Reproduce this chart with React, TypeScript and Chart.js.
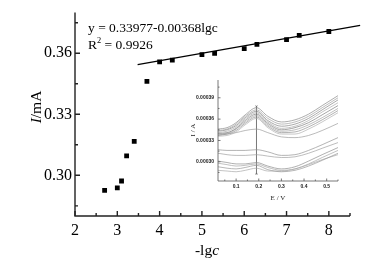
import React, { useEffect, useRef } from "react";
import { Chart, registerables } from "chart.js";

Chart.register(...registerables);

const SERIF = "'Liberation Serif', 'Times New Roman', serif";
const SANS = "'Liberation Sans', Arial, sans-serif";
Chart.defaults.font.family = SERIF;

// ---- main chart data ----
const lgC = [2.7, 3.0, 3.1, 3.22, 3.4, 3.7, 4.0, 4.3, 5.0, 5.3, 6.0, 6.3, 7.0, 7.3, 8.0];
const currentMA = [0.2926, 0.2938, 0.2972, 0.3096, 0.3167, 0.3462, 0.3558, 0.3566, 0.3593, 0.36, 0.3623, 0.3644, 0.3667, 0.3688, 0.3707];
const fitLgC = [3.48, 8.74];
const fitMA = [0.3544, 0.3737];
const xTickValues = [2, 3, 4, 5, 6, 7, 8];
const xMinorValues = [2.5, 3.5, 4.5, 5.5, 6.5, 7.5, 8.5];
const yTickValues = [0.3, 0.33, 0.36];
const yMinorValues = [0.285, 0.315, 0.345, 0.375];
const equationText = "y = 0.33977-0.00368lgc";
const r2Text = "0.9926";

// ---- inset data ----
const insetE = [0.02, 0.06, 0.1, 0.14, 0.19, 0.24, 0.3, 0.36, 0.42, 0.48, 0.55];
const scan1 = [3.46e-4, 3.48e-4, 3.55e-4, 3.66e-4, 3.76e-4, 3.64e-4, 3.56e-4, 3.59e-4, 3.67e-4, 3.79e-4, 3.93e-4];
const scan2 = [3.44e-4, 3.46e-4, 3.53e-4, 3.64e-4, 3.73e-4, 3.61e-4, 3.53e-4, 3.56e-4, 3.64e-4, 3.76e-4, 3.9e-4];
const scan3 = [3.43e-4, 3.45e-4, 3.51e-4, 3.62e-4, 3.71e-4, 3.58e-4, 3.5e-4, 3.53e-4, 3.61e-4, 3.73e-4, 3.87e-4];
const scan4 = [3.41e-4, 3.43e-4, 3.49e-4, 3.6e-4, 3.69e-4, 3.56e-4, 3.47e-4, 3.5e-4, 3.58e-4, 3.7e-4, 3.83e-4];
const scan5 = [3.4e-4, 3.41e-4, 3.47e-4, 3.58e-4, 3.67e-4, 3.54e-4, 3.45e-4, 3.48e-4, 3.55e-4, 3.66e-4, 3.79e-4];
const scan6 = [3.39e-4, 3.4e-4, 3.46e-4, 3.56e-4, 3.65e-4, 3.52e-4, 3.43e-4, 3.45e-4, 3.52e-4, 3.62e-4, 3.75e-4];
const scan7 = [3.37e-4, 3.39e-4, 3.44e-4, 3.54e-4, 3.63e-4, 3.5e-4, 3.41e-4, 3.42e-4, 3.49e-4, 3.59e-4, 3.72e-4];
const scan8 = [3.36e-4, 3.37e-4, 3.42e-4, 3.52e-4, 3.61e-4, 3.48e-4, 3.39e-4, 3.39e-4, 3.46e-4, 3.56e-4, 3.69e-4];
const scan9 = [3.38e-4, 3.39e-4, 3.41e-4, 3.44e-4, 3.46e-4, 3.41e-4, 3.35e-4, 3.34e-4, 3.37e-4, 3.44e-4, 3.54e-4];
const scan10 = [3.17e-4, 3.16e-4, 3.16e-4, 3.16e-4, 3.17e-4, 3.14e-4, 3.09e-4, 3.1e-4, 3.16e-4, 3.24e-4, 3.34e-4];
const scan11 = [3.12e-4, 3.1e-4, 3.09e-4, 3.09e-4, 3.1e-4, 3.08e-4, 3.06e-4, 3.07e-4, 3.12e-4, 3.19e-4, 3.27e-4];
const scan12 = [3.01e-4, 2.99e-4, 2.97e-4, 2.97e-4, 2.99e-4, 2.94e-4, 2.9e-4, 2.93e-4, 3.01e-4, 3.1e-4, 3.2e-4];
const scan13 = [2.98e-4, 2.96e-4, 2.94e-4, 2.95e-4, 2.97e-4, 2.92e-4, 2.88e-4, 2.9e-4, 2.97e-4, 3.06e-4, 3.16e-4];
const scan14 = [2.93e-4, 2.91e-4, 2.9e-4, 2.92e-4, 2.95e-4, 2.89e-4, 2.86e-4, 2.88e-4, 2.94e-4, 3.02e-4, 3.12e-4];
const scan15 = [2.88e-4, 2.87e-4, 2.86e-4, 2.88e-4, 2.91e-4, 2.87e-4, 2.87e-4, 2.9e-4, 2.96e-4, 3.03e-4, 3.1e-4];
const insetScans = [scan1, scan2, scan3, scan4, scan5, scan6, scan7, scan8, scan9, scan10, scan11, scan12, scan13, scan14, scan15];
const peakMarkE = [0.19, 0.19];
const peakMarkI = [3.78e-4, 2.83e-4];
const insetXTicks = [0.1, 0.2, 0.3, 0.4, 0.5];
const insetXMinor = [0.05, 0.15, 0.25, 0.35, 0.45, 0.55];
const insetYTicks = [3.0e-4, 3.3e-4, 3.6e-4, 3.9e-4];
const insetYMinor = [2.85e-4, 3.15e-4, 3.45e-4, 3.75e-4, 4.05e-4];

type AxisCfg = {
  xMajor: number[];
  xMinor: number[];
  yMajor: number[];
  yMinor: number[];
  color: string;
  width: number;
  majorLen: number;
  minorLen: number;
};

function makeAxesPlugin(id: string, cfg: AxisCfg) {
  return {
    id,
    afterDraw(chart: any) {
      const { ctx, chartArea: a, scales } = chart;
      const xs = scales.x;
      const ys = scales.y;
      ctx.save();
      ctx.strokeStyle = cfg.color;
      ctx.lineWidth = cfg.width;
      ctx.beginPath();
      ctx.moveTo(a.left, a.top);
      ctx.lineTo(a.left, a.bottom);
      ctx.lineTo(a.right, a.bottom);
      ctx.stroke();
      ctx.beginPath();
      const tick = (vals: number[], len: number, isX: boolean) => {
        for (const v of vals) {
          if (isX) {
            const px = xs.getPixelForValue(v);
            ctx.moveTo(px, a.bottom);
            ctx.lineTo(px, a.bottom - len);
          } else {
            const py = ys.getPixelForValue(v);
            ctx.moveTo(a.left, py);
            ctx.lineTo(a.left + len, py);
          }
        }
      };
      tick(cfg.xMajor, cfg.majorLen, true);
      tick(cfg.xMinor, cfg.minorLen, true);
      tick(cfg.yMajor, cfg.majorLen, false);
      tick(cfg.yMinor, cfg.minorLen, false);
      ctx.stroke();
      ctx.restore();
    },
  };
}

type Seg = { t: string; italic?: boolean; sup?: boolean };

function drawRich(ctx: CanvasRenderingContext2D, segs: Seg[], x: number, y: number, size: number, align: "left" | "center") {
  const fontFor = (s: Seg) => `${s.italic ? "italic " : ""}${s.sup ? size * 0.62 : size}px ${SERIF}`;
  let total = 0;
  for (const s of segs) {
    ctx.font = fontFor(s);
    total += ctx.measureText(s.t).width;
  }
  let cx = align === "center" ? x - total / 2 : x;
  ctx.textBaseline = "alphabetic";
  ctx.textAlign = "left";
  for (const s of segs) {
    ctx.font = fontFor(s);
    ctx.fillText(s.t, cx, s.sup ? y - size * 0.42 : y);
    cx += ctx.measureText(s.t).width;
  }
}

const mainTextPlugin = {
  id: "mainText",
  afterDraw(chart: any) {
    const ctx = chart.ctx as CanvasRenderingContext2D;
    ctx.save();
    ctx.fillStyle = "#000";
    drawRich(ctx, [{ t: equationText }], 88, 32, 13.5, "left");
    drawRich(ctx, [{ t: "R" }, { t: "2", sup: true }, { t: " = " + r2Text }], 88, 49, 13.5, "left");
    drawRich(ctx, [{ t: "-lg" }, { t: "c", italic: true }], 207, 255, 15.5, "center");
    ctx.translate(41, 107);
    ctx.rotate(-Math.PI / 2);
    drawRich(ctx, [{ t: "I", italic: true }, { t: "/mA" }], 0, 0, 15.5, "center");
    ctx.restore();
  },
};

const insetTextPlugin = {
  id: "insetText",
  afterDraw(chart: any) {
    const ctx = chart.ctx as CanvasRenderingContext2D;
    ctx.save();
    ctx.fillStyle = "#222";
    drawRich(ctx, [{ t: "E / V" }], 100, 128, 7, "center");
    ctx.translate(17, 58);
    ctx.rotate(-Math.PI / 2);
    drawRich(ctx, [{ t: "I / A" }], 0, 0, 7, "center");
    ctx.restore();
  },
};

const scanColors = ["#8a8a8a", "#a0a0a0", "#858585", "#aaaaaa", "#7e7e7e", "#a4a4a4", "#909090", "#b0b0b0", "#9e9e9e", "#949494", "#a0a0a0", "#8e8e8e", "#a6a6a6", "#989898", "#aaaaaa"];

export default function App() {
  const mainRef = useRef<HTMLCanvasElement | null>(null);
  const insetRef = useRef<HTMLCanvasElement | null>(null);

  useEffect(() => {
    document.body.style.margin = "0";
    const main = new Chart(mainRef.current as HTMLCanvasElement, {
      type: "scatter",
      data: {
        datasets: [
          {
            type: "line",
            data: fitLgC.map((x, i) => ({ x, y: fitMA[i] })),
            borderColor: "#000",
            borderWidth: 1.3,
            pointRadius: 0,
            clip: false as any,
          },
          {
            type: "scatter",
            data: lgC.map((x, i) => ({ x, y: currentMA[i] })),
            pointStyle: "rect",
            pointRadius: 3.4,
            backgroundColor: "#000",
            borderColor: "#000",
            borderWidth: 0,
          },
        ],
      },
      options: {
        responsive: false,
        animation: false,
        events: [],
        layout: { padding: { top: 12, right: 41, left: 0, bottom: 0 } },
        plugins: { legend: { display: false }, tooltip: { enabled: false } },
        scales: {
          x: {
            type: "linear",
            min: 2,
            max: 8.5,
            grid: { display: false, drawTicks: false },
            border: { display: false },
            afterBuildTicks: (s: any) => {
              s.ticks = xTickValues.map((v) => ({ value: v }));
            },
            afterFit: (s: any) => {
              s.height = 50;
            },
            ticks: {
              color: "#000",
              font: { family: SERIF, size: 16 },
              padding: 5,
              maxRotation: 0,
              callback: (v: any) => String(v),
            },
          },
          y: {
            type: "linear",
            min: 0.28,
            max: 0.38,
            grid: { display: false, drawTicks: false },
            border: { display: false },
            afterBuildTicks: (s: any) => {
              s.ticks = yTickValues.map((v) => ({ value: v }));
            },
            afterFit: (s: any) => {
              s.width = 75;
            },
            ticks: {
              color: "#000",
              font: { family: SERIF, size: 16 },
              padding: 3,
              callback: (v: any) => Number(v).toFixed(2),
            },
          },
        },
      },
      plugins: [
        makeAxesPlugin("mainAxes", {
          xMajor: xTickValues,
          xMinor: xMinorValues,
          yMajor: yTickValues,
          yMinor: yMinorValues,
          color: "#222",
          width: 1.4,
          majorLen: 5,
          minorLen: 3,
        }),
        mainTextPlugin,
      ],
    } as any);

    const inset = new Chart(insetRef.current as HTMLCanvasElement, {
      type: "line",
      data: {
        datasets: [
          ...insetScans.map((arr, k) => ({
            data: insetE.map((x, i) => ({ x, y: arr[i] })),
            borderColor: scanColors[k],
            borderWidth: 0.7,
            pointRadius: 0,
            cubicInterpolationMode: "monotone",
          })),
          {
            data: peakMarkE.map((x, i) => ({ x, y: peakMarkI[i] })),
            borderColor: "#777",
            borderWidth: 0.7,
            pointRadius: 1.3,
            pointStyle: "crossRot",
            pointBorderColor: "#666",
            pointBorderWidth: 0.7,
          },
        ],
      },
      options: {
        responsive: false,
        animation: false,
        events: [],
        layout: { padding: { top: 8, right: 10, left: 0, bottom: 0 } },
        plugins: { legend: { display: false }, tooltip: { enabled: false } },
        scales: {
          x: {
            type: "linear",
            min: 0.02,
            max: 0.55,
            grid: { display: false, drawTicks: false },
            border: { display: false },
            afterBuildTicks: (s: any) => {
              s.ticks = insetXTicks.map((v) => ({ value: v }));
            },
            afterFit: (s: any) => {
              s.height = 26;
            },
            ticks: {
              color: "#222",
              font: { family: SANS, size: 5, weight: "bold" },
              padding: 3,
              maxRotation: 0,
              callback: (v: any) => Number(v).toFixed(1),
            },
          },
          y: {
            type: "linear",
            min: 2.73e-4,
            max: 4.15e-4,
            grid: { display: false, drawTicks: false },
            border: { display: false },
            afterBuildTicks: (s: any) => {
              s.ticks = insetYTicks.map((v) => ({ value: v }));
            },
            afterFit: (s: any) => {
              s.width = 40;
            },
            ticks: {
              color: "#222",
              font: { family: SANS, size: 5, weight: "bold" },
              padding: 4,
              callback: (v: any) => Number(v).toFixed(5),
            },
          },
        },
      },
      plugins: [
        makeAxesPlugin("insetAxes", {
          xMajor: insetXTicks,
          xMinor: insetXMinor,
          yMajor: insetYTicks,
          yMinor: insetYMinor,
          color: "#555",
          width: 0.8,
          majorLen: 2.5,
          minorLen: 1.5,
        }),
        insetTextPlugin,
      ],
    } as any);

    return () => {
      main.destroy();
      inset.destroy();
    };
  }, []);

  return (
    <div style={{ position: "relative", width: 391, height: 266, background: "#fff" }}>
      <canvas ref={mainRef} width={391} height={266} style={{ position: "absolute", left: 0, top: 0, width: 391, height: 266 }} />
      <canvas ref={insetRef} width={170} height={135} style={{ position: "absolute", left: 178, top: 72, width: 170, height: 135 }} />
    </div>
  );
}
